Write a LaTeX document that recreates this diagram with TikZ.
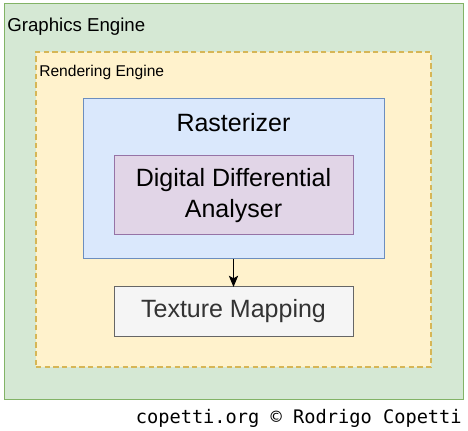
\documentclass[tikz,border=0pt]{standalone}
\usepackage{fontspec}
\setmainfont{Liberation Sans}
\newfontfamily\monofont{DejaVu Sans Mono}
\usetikzlibrary{arrows.meta}
\definecolor{gfill}{HTML}{D5E8D4}\definecolor{gline}{HTML}{82B366}
\definecolor{yfill}{HTML}{FFF2CC}\definecolor{yline}{HTML}{D6B656}
\definecolor{bfill}{HTML}{DAE8FC}\definecolor{bline}{HTML}{6C8EBF}
\definecolor{pfill}{HTML}{E1D5E7}\definecolor{pline}{HTML}{9673A6}
\definecolor{tfill}{HTML}{F5F5F5}\definecolor{tline}{HTML}{666666}
\definecolor{ttext}{HTML}{333333}
\tikzset{
  box/.style={draw, rectangle, line width=0.75pt, inner sep=0pt, outer sep=0pt},
  big/.style={font=\fontsize{18.75}{23.25}\selectfont, align=center},
}
\begin{document}
\begin{tikzpicture}[x=0.75pt,y=-0.75pt]
\useasboundingbox (0,0) rectangle (468,431);
\node[box, fill=gfill, draw=gline, minimum width=344.25pt, minimum height=296.25pt] (ge) at (233.5,201.5) {};
\node[box, fill=yfill, draw=yline, line width=1pt, dash pattern=on 4pt off 2.5pt, minimum width=296.25pt, minimum height=236.25pt] (re) at (233.5,209.5) {};
\node[box, fill=bfill, draw=bline, minimum width=225.75pt, minimum height=120pt] (ra) at (233.5,179) {};
\node[box, big, fill=pfill, draw=pline, minimum width=179.25pt, minimum height=59.25pt] (dda) at (233.5,195.5) {Digital Differential\\Analyser};
\node[box, big, fill=tfill, draw=tline, text=ttext, minimum width=179.25pt, minimum height=36.75pt] (tm) at (233.5,311.5) {\raisebox{-1pt}{Texture Mapping}};
\node[anchor=base west, inner sep=0pt, font=\fontsize{14}{16}\selectfont] (gel) at (7,32) {Graphics Engine};
\node[anchor=base west, inner sep=0pt, font=\fontsize{11.7}{14}\selectfont] (rel) at (39,77) {Rendering Engine};
\node[anchor=base, inner sep=0pt, font=\fontsize{18.75}{23.25}\selectfont] (ral) at (233.5,132) {Rasterizer};
\draw[line width=0.75pt, -{Stealth[length=8.5pt,width=7pt,inset=2pt]}] (ra.south) -- (tm.north);
\node[anchor=base east, inner sep=0pt, font=\monofont\fontsize{14}{16}\selectfont] (cp) at (462,423) {copetti.org © Rodrigo Copetti};
\end{tikzpicture}
\end{document}
